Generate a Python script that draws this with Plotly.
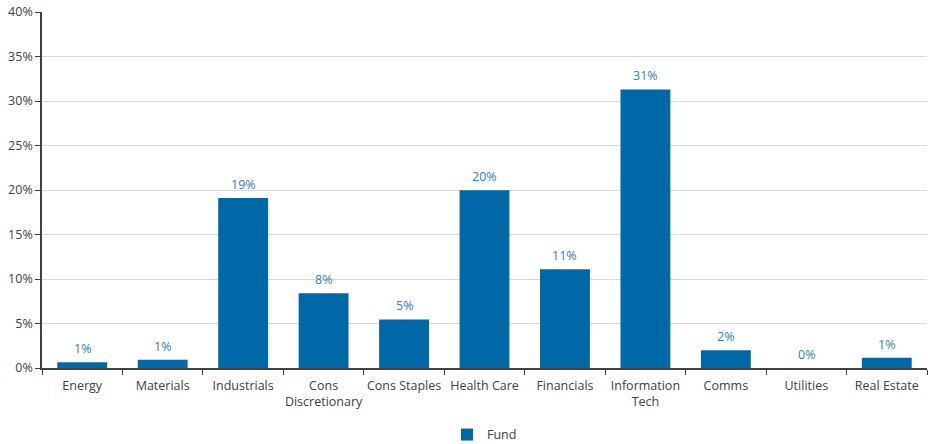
import plotly.graph_objects as go

categories = ["Energy", "Materials", "Industrials", "Cons<br>Discretionary", "Cons Staples",
              "Health Care", "Financials", "Information<br>Tech", "Comms", "Utilities", "Real Estate"]
fund = [0.0064, 0.0093, 0.191, 0.084, 0.0546, 0.1998, 0.111, 0.313, 0.020, 0.0, 0.0116]
y_ticks = [0, 0.05, 0.10, 0.15, 0.20, 0.25, 0.30, 0.35, 0.40]
y_tick_labels = ["0%", "5%", "10%", "15%", "20%", "25%", "30%", "35%", "40%"]

font_family = "Open Sans"
bar_color = "#0068A6"
label_color = "#2E80C0"
text_color = "#404040"

fig = go.Figure()
fig.add_trace(go.Bar(
    x=categories, y=fund, name="Fund",
    marker=dict(color=bar_color, line=dict(width=0)),
))

for c, v in zip(categories, fund):
    fig.add_annotation(x=c, y=v, text=f"{round(v*100):.0f}%", showarrow=False,
                       yanchor="bottom", yshift=3,
                       font=dict(family=font_family, size=12.5, color=label_color))

fig.update_layout(
    width=933, height=444,
    margin=dict(l=42, r=6, t=12, b=76, autoexpand=False),
    paper_bgcolor="white", plot_bgcolor="white",
    bargap=0.38,
    showlegend=True,
    legend=dict(orientation="h", x=0.5, xanchor="center", y=-0.188, yanchor="middle",
                font=dict(family=font_family, size=12.5, color=text_color),
                itemwidth=30),
    font=dict(family=font_family, size=12.5, color=text_color),
)
fig.update_xaxes(
    showline=True, linecolor=text_color, linewidth=1.5,
    ticks="outside", tickson="boundaries", ticklen=5, tickcolor=text_color,
    tickangle=0, automargin=False, ticklabelstandoff=5,
    tickfont=dict(family=font_family, size=12.5, color=text_color),
    showgrid=False,
)
fig.update_yaxes(
    range=[0, 0.40], tickvals=y_ticks, ticktext=y_tick_labels,
    showline=True, linecolor=text_color, linewidth=1.5,
    ticks="outside", ticklen=5, tickcolor=text_color, automargin=False,
    showgrid=True, gridcolor="#D9D9D9", gridwidth=1,
    zeroline=False,
    tickfont=dict(family=font_family, size=12.5, color=text_color),
)

fig.write_html("out.html")
